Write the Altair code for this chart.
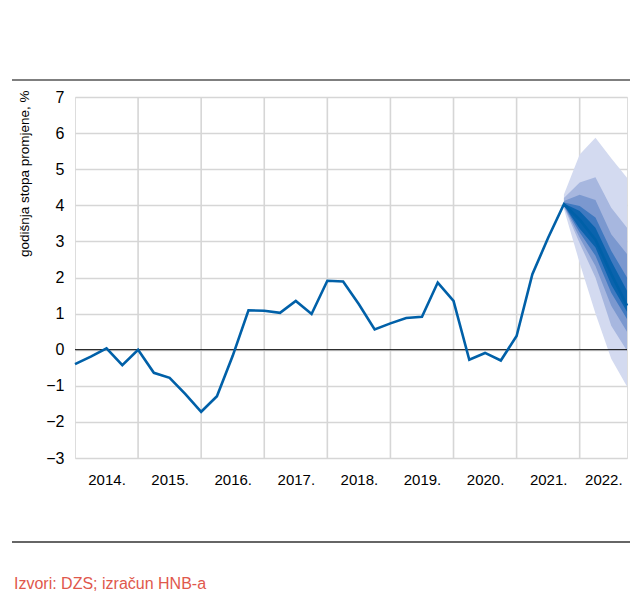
import altair as alt
import pandas as pd

# ---- data ----
years = [2014, 2015, 2016, 2017, 2018, 2019, 2020, 2021, 2022]
# quarterly index 0 = 2014 Q1 ... 31 = 2021 Q4 (actual)
actual = [-0.40, -0.19, 0.04, -0.43,
          0.00, -0.64, -0.78, -1.23,
          -1.72, -1.29, -0.17, 1.09,
          1.08, 1.02, 1.35, 0.99,
          1.91, 1.89, 1.26, 0.56,
          0.73, 0.88, 0.91, 1.86,
          1.35, -0.28, -0.09, -0.30,
          0.38, 2.09, 3.10, 4.03]
# projection 2021 Q4 .. 2022 Q4
proj_idx = [31, 32, 33, 34, 35]
proj_median = [4.03, 3.60, 3.05, 2.10, 1.22]
band1_lo = [3.90, 2.40, 1.00, -0.25, -1.02]
band1_hi = [4.30, 5.41, 5.87, 5.30, 4.76]
band2_lo = [3.95, 2.95, 2.00, 0.66, -0.03]
band2_hi = [4.20, 4.63, 4.78, 3.93, 3.38]
band3_lo = [3.98, 3.10, 2.32, 1.22, 0.50]
band3_hi = [4.12, 4.29, 4.15, 3.20, 2.65]
band4_lo = [4.00, 3.25, 2.60, 1.58, 0.85]
band4_hi = [4.08, 3.98, 3.66, 2.74, 2.00]
band5_lo = [4.01, 3.35, 2.83, 1.80, 1.05]
band5_hi = [4.05, 3.84, 3.38, 2.46, 1.63]
band_colors = ["#d3daf0", "#a7b7df", "#7b98cf", "#3f79c0", "#0a63ad"]
source_text = "Izvori: DZS; izračun HNB-a"
y_title = "godišnja stopa promjene, %"
y_ticks = [-3, -2, -1, 0, 1, 2, 3, 4, 5, 6, 7]

# ---- tables ----
line_df = pd.DataFrame({
    "q": list(range(len(actual))) + proj_idx[1:],
    "v": actual + proj_median[1:],
})
bands = [(band1_lo, band1_hi), (band2_lo, band2_hi), (band3_lo, band3_hi),
         (band4_lo, band4_hi), (band5_lo, band5_hi)]
grid_df = pd.DataFrame({"q": [4 * (i + 1) for i in range(len(years) - 1)]})
label_pos = [4 * i + 2 for i in range(len(years) - 1)] + [33.5]

W, H = 552, 361
font = "Liberation Sans"

xscale = alt.Scale(domain=[0, 35], nice=False, zero=False)
yscale = alt.Scale(domain=[-3, 7], nice=False, zero=False)

x_axis = alt.Axis(values=label_pos, grid=False, domain=False, ticks=False, tickSize=0,
                  labelExpr="floor(datum.value / 4) + 2014 + '.'",
                  labelFont=font, labelFontSize=15, labelColor="#000",
                  labelBaseline="alphabetic", labelPadding=26, labelOverlap=False,
                  title=None)
y_axis = alt.Axis(values=y_ticks, grid=True, gridColor="#d6d6d6", gridWidth=1.6,
                  domain=False, ticks=False, tickSize=0,
                  labelFont=font, labelFontSize=16, labelColor="#000", labelPadding=11,
                  labelOverlap=False, labelBound=False,
                  title=y_title, titleFont=font, titleFontSize=13.5, titleFontWeight="normal",
                  titleColor="#000", titleAnchor="end", titlePadding=14, titleY=-7)

vgrid = alt.Chart(grid_df).mark_rule(color="#d6d6d6", strokeWidth=1.6).encode(
    x=alt.X("q:Q", scale=xscale, axis=x_axis)
)

layers = [vgrid]
for (lo, hi), col in zip(bands, band_colors):
    bdf = pd.DataFrame({"q": proj_idx, "lo": lo, "hi": hi})
    layers.append(
        alt.Chart(bdf).mark_area(color=col, opacity=1).encode(
            x=alt.X("q:Q", scale=xscale, axis=x_axis),
            y=alt.Y("lo:Q", scale=yscale, axis=y_axis),
            y2="hi:Q",
        )
    )

zero = alt.Chart(pd.DataFrame({"y": [0]})).mark_rule(color="#000", strokeWidth=1).encode(
    y=alt.Y("y:Q", scale=yscale, axis=y_axis)
)
line = alt.Chart(line_df).mark_line(color="#0060a8", strokeWidth=2.6).encode(
    x=alt.X("q:Q", scale=xscale, axis=x_axis),
    y=alt.Y("v:Q", scale=yscale, axis=y_axis),
)

top_rule = alt.Chart(pd.DataFrame({"a": [0]})).mark_rule(color="#7f7f7f", strokeWidth=2).encode(
    x=alt.value(-63), x2=alt.value(556), y=alt.value(-17)
)
bottom_rule = alt.Chart(pd.DataFrame({"a": [0]})).mark_rule(color="#333333", strokeWidth=1.3).encode(
    x=alt.value(-63), x2=alt.value(556), y=alt.value(445)
)
src = alt.Chart(pd.DataFrame({"t": [source_text]})).mark_text(
    align="left", baseline="alphabetic", font=font, fontSize=16, color="#e0584c"
).encode(x=alt.value(-61), y=alt.value(492), text="t:N")

chart = alt.layer(*layers, zero, line, top_rule, bottom_rule, src).properties(
    width=W, height=H,
    padding={"left": 67, "top": 89, "right": 3, "bottom": 133},
    autosize=alt.AutoSizeParams(type="none"),
).configure_view(
    stroke="#333333", strokeWidth=1
).configure_axis(
    labelOverlap=False
).configure(background="white")

chart.save("out.html", embed_options={"renderer": "svg", "actions": False})
